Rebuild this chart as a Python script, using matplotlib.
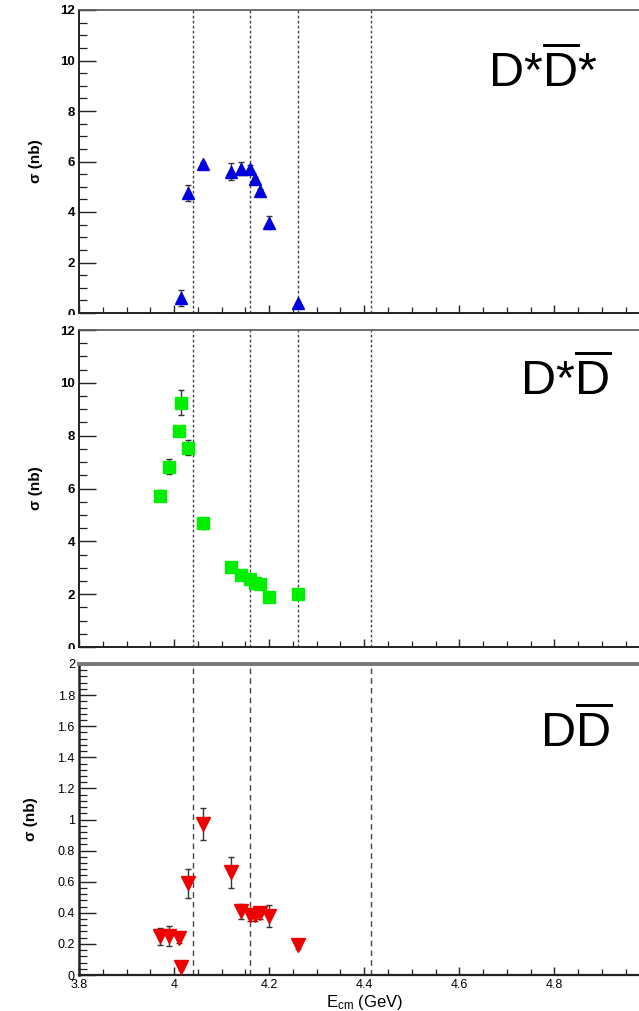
import matplotlib
matplotlib.use("Agg")
import matplotlib.pyplot as plt
from matplotlib.ticker import MultipleLocator, FormatStrFormatter, FuncFormatter
from matplotlib.patches import Rectangle

# ---- data ----
E_dsds = [4.015, 4.03, 4.06, 4.12, 4.14, 4.16, 4.17, 4.18, 4.20, 4.26]
sig_dsds = [0.6, 4.75, 5.9, 5.6, 5.72, 5.7, 5.3, 4.82, 3.58, 0.38]
err_dsds = [0.33, 0.3, 0.1, 0.33, 0.26, 0.15, 0.1, 0.1, 0.27, 0.05]

E_dsd = [3.97, 3.99, 4.01, 4.015, 4.03, 4.06, 4.12, 4.14, 4.16, 4.17, 4.18, 4.20, 4.26]
sig_dsd = [5.73, 6.83, 8.16, 9.25, 7.55, 4.68, 3.04, 2.73, 2.56, 2.41, 2.37, 1.89, 1.99]
err_dsd = [0.22, 0.27, 0.1, 0.47, 0.3, 0.2, 0.1, 0.1, 0.1, 0.1, 0.1, 0.08, 0.08]

E_dd = [3.97, 3.99, 4.01, 4.015, 4.03, 4.06, 4.12, 4.14, 4.16, 4.17, 4.18, 4.20, 4.26]
sig_dd = [0.25, 0.25, 0.236, 0.05, 0.59, 0.97, 0.66, 0.41, 0.386, 0.386, 0.40, 0.38, 0.19]
err_dd = [0.054, 0.064, 0.03, 0.02, 0.093, 0.104, 0.1, 0.048, 0.04, 0.04, 0.04, 0.073, 0.02]

vlines_top = [4.04, 4.16, 4.26, 4.415]
vlines_bot = [4.04, 4.16, 4.415]

plt.rcParams['font.family'] = ['Liberation Sans', 'DejaVu Sans']
plt.rcParams['mathtext.fontset'] = 'custom'
plt.rcParams['mathtext.rm'] = 'Liberation Sans'
plt.rcParams['mathtext.it'] = 'Liberation Sans:italic'

W, H = 639, 1011
fig = plt.figure(figsize=(W / 100, H / 100), dpi=100)

def rect(top, bottom):
    left, right = 79, 649.5
    return [left / W, 1 - bottom / H, (right - left) / W, (bottom - top) / H]

ax1 = fig.add_axes(rect(10, 313), zorder=1)
ax2 = fig.add_axes(rect(330, 647), zorder=2)
ax3 = fig.add_axes(rect(664, 975), zorder=3)

# white cover strips to clip the lowest label of the panel above
fig.patches.append(Rectangle((0, 1 - 326 / H), 1, 11 / H, transform=fig.transFigure,
                             facecolor='white', edgecolor='none', zorder=1.5))
fig.patches.append(Rectangle((0, 1 - 660 / H), 1, 11 / H, transform=fig.transFigure,
                             facecolor='white', edgecolor='none', zorder=2.5))

xfmt = FuncFormatter(lambda v, p: '' if v > 4.9 else '%g' % round(v, 2))

def style(ax, ymax, ymaj, ymin, bold=True, labels_x=False):
    ax.set_xlim(3.8, 5.0)
    ax.set_ylim(0, ymax)
    ax.xaxis.set_major_locator(MultipleLocator(0.2))
    ax.xaxis.set_minor_locator(MultipleLocator(0.05))
    ax.yaxis.set_major_locator(MultipleLocator(ymaj))
    ax.yaxis.set_minor_locator(MultipleLocator(ymin))
    ax.tick_params(which='both', direction='in', top=False, right=False, color='#222222')
    ax.tick_params(axis='y', which='major', length=12, width=1.0, pad=3)
    ax.tick_params(axis='y', which='minor', length=6, width=0.9)
    ax.tick_params(axis='x', which='major', length=6, width=1.0)
    ax.tick_params(axis='x', which='minor', length=4, width=0.9)
    ax.yaxis.set_major_formatter(FormatStrFormatter('%g'))
    ax.xaxis.set_major_formatter(xfmt)
    for lab in ax.get_yticklabels():
        lab.set_fontweight('bold' if bold else 'normal')
    if not labels_x:
        ax.tick_params(axis='x', labelbottom=False)
    ax.spines['right'].set_visible(False)
    ax.spines['left'].set_color('#222222')
    ax.spines['bottom'].set_color('#222222')

style(ax1, 12, 2, 0.5)
style(ax2, 12, 2, 0.5)
style(ax3, 2, 0.2, 0.04, bold=False, labels_x=True)
for ax in (ax1, ax2):
    ax.tick_params(axis='y', labelsize=9.5)
    ax.spines['top'].set_color('#555555')
    ax.spines['top'].set_linewidth(1.2)
    ax.spines['left'].set_linewidth(1.4)
    ax.spines['bottom'].set_linewidth(1.4)
ax3.tick_params(axis='both', labelsize=9)
ax3.tick_params(axis='x', pad=3)
ax3.spines['top'].set_color('#777777')
ax3.spines['top'].set_linewidth(2.8)
ax3.spines['left'].set_linewidth(1.8)
ax3.spines['bottom'].set_linewidth(1.6)

for ax in (ax1, ax2):
    for v in vlines_top:
        ax.axvline(v, color='#444444', lw=1.0, ls=(0, (2, 1.6)), zorder=1)
for v in vlines_bot:
    ax3.axvline(v, color='#444444', lw=1.0, ls=(0, (4, 3)), zorder=1)

ax1.errorbar(E_dsds, sig_dsds, yerr=err_dsds, fmt='^', color='#0000dd', ms=8.5,
             ecolor='#333333', elinewidth=1.0, capsize=2.5, capthick=1.0, zorder=3)
ax2.errorbar(E_dsd, sig_dsd, yerr=err_dsd, fmt='s', color='#00ee00', ms=8.5,
             ecolor='#333333', elinewidth=1.0, capsize=2.5, capthick=1.0, zorder=3)
ax3.errorbar(E_dd, sig_dd, yerr=err_dd, fmt='v', color='#ee0000', ms=9.5,
             ecolor='#333333', elinewidth=1.0, capsize=2.5, capthick=1.0, zorder=3)

for ax in (ax1, ax2):
    ax.set_ylabel('σ (nb)', fontsize=11, fontweight='bold', labelpad=12)
ax3.set_ylabel('σ (nb)', fontsize=11, fontweight='bold', labelpad=14)
ax3.set_xlabel(r'E$_{\mathrm{cm}}$ (GeV)', fontsize=12, labelpad=1)

# channel labels
ax1.text(488 / W, 1 - 87 / H, r'D*$\overline{\mathrm{D}}$*', transform=fig.transFigure,
         fontsize=35, ha='left', va='baseline')
ax2.text(520 / W, 1 - 395 / H, r'D*$\overline{\mathrm{D}}$', transform=fig.transFigure,
         fontsize=35, ha='left', va='baseline')
ax3.text(540 / W, 1 - 747 / H, r'D$\overline{\mathrm{D}}$', transform=fig.transFigure,
         fontsize=35, ha='left', va='baseline')

fig.savefig('out.png', dpi=100)
